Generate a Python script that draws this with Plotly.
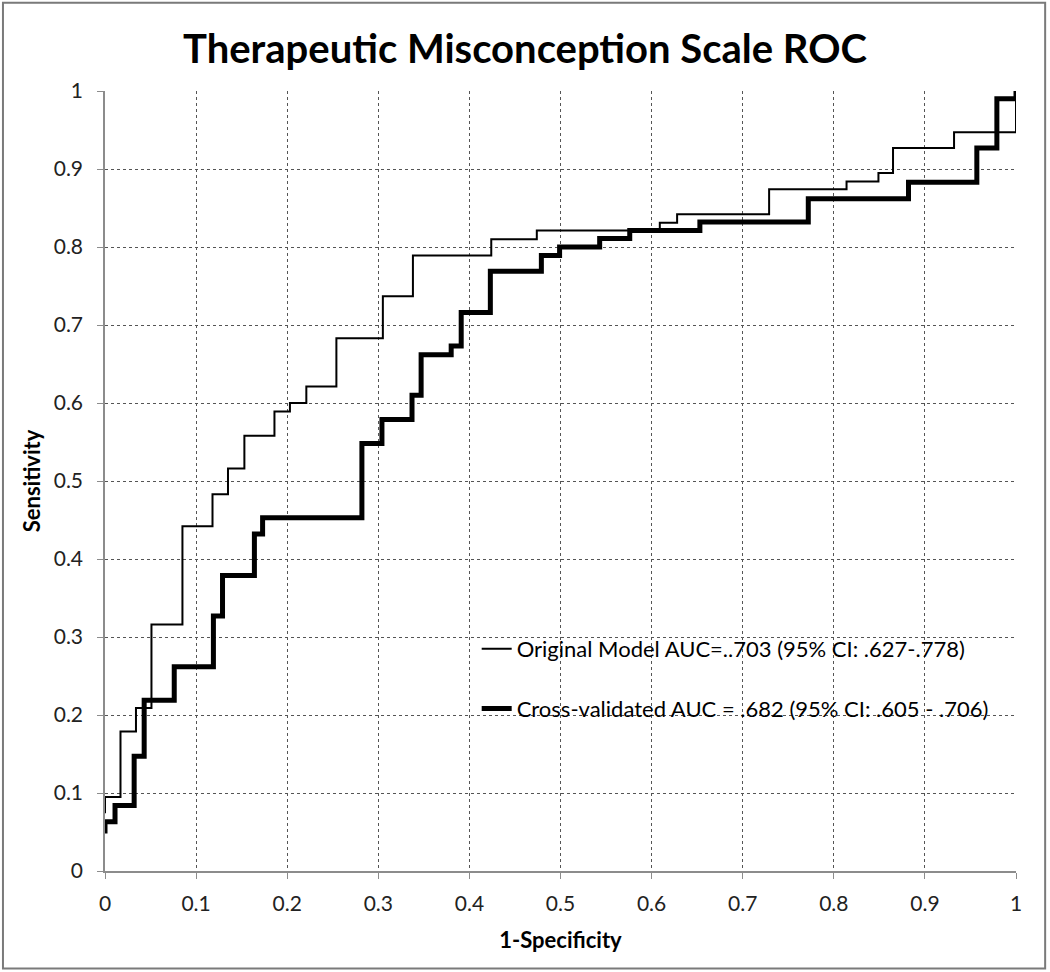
import plotly.graph_objects as go

# Original model ROC step points (1-specificity, sensitivity)
orig_fpr = [0.0, 0.0, 0.017, 0.034, 0.051, 0.085, 0.118, 0.135, 0.153, 0.186, 0.203, 0.221,
            0.254, 0.305, 0.338, 0.424, 0.474, 0.609, 0.628, 0.729, 0.814, 0.849, 0.865,
            0.932, 1.0, 1.0]
orig_tpr = [0.074, 0.095, 0.179, 0.209, 0.316, 0.442, 0.483, 0.516, 0.558, 0.589, 0.600, 0.621,
            0.683, 0.737, 0.789, 0.810, 0.821, 0.831, 0.842, 0.874, 0.884, 0.895, 0.927,
            0.947, 0.947, 1.0]

# Cross-validated ROC step points
cv_fpr = [0.0, 0.0, 0.011, 0.032, 0.043, 0.076, 0.119, 0.129, 0.164, 0.173, 0.282, 0.304,
          0.337, 0.347, 0.380, 0.391, 0.423, 0.479, 0.499, 0.543, 0.576, 0.653, 0.772,
          0.882, 0.957, 0.979, 1.0]
cv_tpr = [0.048, 0.063, 0.084, 0.147, 0.219, 0.262, 0.327, 0.379, 0.432, 0.453, 0.548, 0.579,
          0.610, 0.662, 0.673, 0.716, 0.769, 0.789, 0.800, 0.811, 0.821, 0.832, 0.862,
          0.883, 0.927, 0.990, 1.0]

orig_name = "Original Model AUC=..703 (95% CI: .627-.778)"
cv_name = "Cross-validated AUC = .682 (95% CI: .605 - .706)"
title_text = "Therapeutic Misconception Scale ROC"
x_title = "1-Specificity"
y_title = "Sensitivity"
tick_vals = [0, 0.1, 0.2, 0.3, 0.4, 0.5, 0.6, 0.7, 0.8, 0.9, 1]
tick_text = ["0", "0.1", "0.2", "0.3", "0.4", "0.5", "0.6", "0.7", "0.8", "0.9", "1"]

FONT = "Lato, Carlito, Calibri, 'Open Sans', sans-serif"

fig = go.Figure()
fig.add_trace(go.Scatter(x=orig_fpr, y=orig_tpr, mode="lines", name=orig_name,
                         line=dict(color="black", width=2, shape="hv"),
                         legendgroup="a", cliponaxis=False))
fig.add_trace(go.Scatter(x=cv_fpr, y=cv_tpr, mode="lines", name=cv_name,
                         line=dict(color="black", width=5, shape="hv"),
                         legendgroup="b", cliponaxis=False))

axis_common = dict(
    range=[0, 1], tickmode="array", tickvals=tick_vals, ticktext=tick_text,
    showgrid=True, gridcolor="#555555", griddash="dot", gridwidth=1,
    showline=True, linecolor="#8c8c8c", linewidth=1.5,
    ticks="outside", ticklen=6, tickcolor="#8c8c8c", tickwidth=1,
    zeroline=False, tickfont=dict(family=FONT, size=21, color="#222222"),
)

fig.update_layout(
    width=1050, height=972,
    margin=dict(l=105, r=34, t=91, b=101),
    paper_bgcolor="white", plot_bgcolor="white",
    title=dict(text=title_text, x=0.5, xref="container", xanchor="center",
               y=0.950, yref="container", yanchor="middle",
               font=dict(family=FONT, size=40, color="black", weight="bold")),
    xaxis=dict(**axis_common, ticklabelstandoff=7,
               title=dict(text=x_title, standoff=19,
                          font=dict(family=FONT, size=22, color="black", weight="bold"))),
    yaxis=dict(**axis_common, ticklabelstandoff=10,
               title=dict(text=y_title, standoff=7,
                          font=dict(family=FONT, size=22, color="black", weight="bold"))),
    legend=dict(x=0.408, y=0.3115, xanchor="left", yanchor="top",
                bgcolor="rgba(0,0,0,0)", borderwidth=0,
                font=dict(family=FONT, size=22, color="black"),
                tracegroupgap=28, traceorder="grouped"),
    showlegend=True,
)

# white box behind legend (covers gridlines)
fig.add_shape(type="rect", xref="paper", yref="paper", x0=0.359, x1=0.986, y0=0.168, y1=0.341,
              fillcolor="white", line=dict(width=0), layer="between")
# outer frame
fig.add_shape(type="rect", xref="paper", yref="paper", x0=-0.112, x1=1.032, y0=-0.125, y1=1.113,
              fillcolor="rgba(0,0,0,0)", line=dict(color="#7a7a7a", width=2), layer="above")

fig.write_html("out.html", config={"displayModeBar": False},
               post_script="document.body.style.margin='0';")
